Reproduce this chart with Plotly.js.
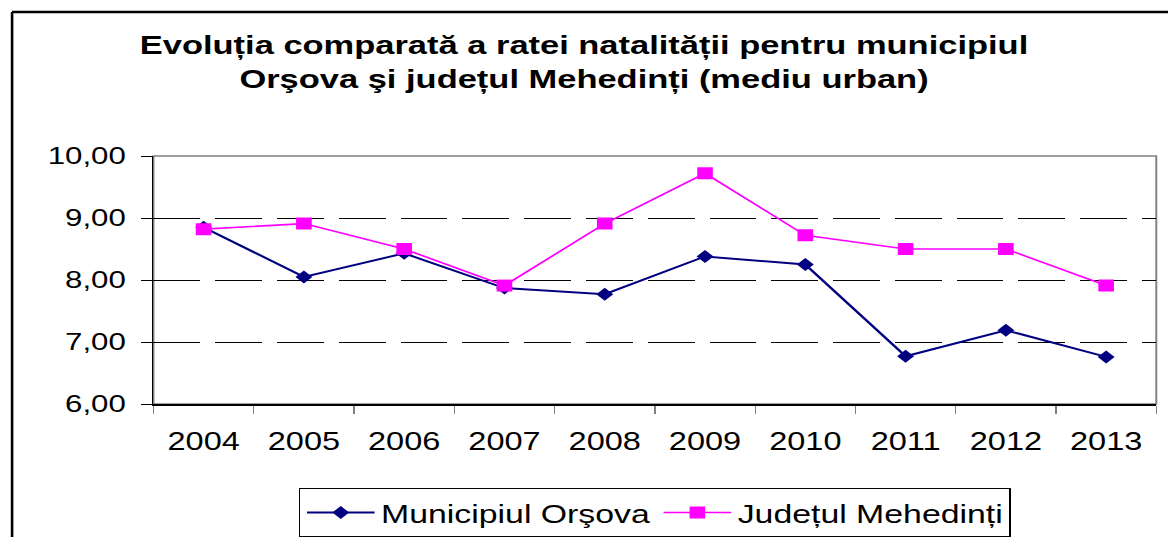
<!DOCTYPE html>
<html>
<head>
<meta charset="utf-8">
<script src="https://cdn.plot.ly/plotly-3.0.1.min.js"></script>
<style>
  html, body { margin: 0; padding: 0; background: #fff; }
  #wrap { width: 1168px; height: 537px; overflow: hidden; position: relative; }
  #chart { width: 898px; height: 537px; transform: scaleX(1.30067); transform-origin: 0 0; }
</style>
</head>
<body>
<div id="wrap"><div id="chart"></div></div>
<script>
const years = ['2004','2005','2006','2007','2008','2009','2010','2011','2012','2013'];
const orsova = [8.85, 8.05, 8.43, 7.87, 7.77, 8.38, 8.25, 6.77, 7.19, 6.76];
const mehedinti = [8.82, 8.91, 8.50, 7.91, 8.91, 9.72, 8.72, 8.50, 8.50, 7.91];
const seriesNames = ['Municipiul Orşova', 'Județul Mehedinți'];
const titleText = '<b>Evoluția comparată a ratei natalității pentru municipiul<br>Orşova şi județul Mehedinți (mediu urban)</b>';

const font = 'Liberation Sans, Arial, sans-serif';

const traces = [
  {
    x: years, y: orsova, name: seriesNames[0], type: 'scatter', mode: 'lines+markers',
    line: { color: '#000080', width: 2 },
    marker: { symbol: 'diamond', size: 10, color: '#000080' }
  },
  {
    x: years, y: mehedinti, name: seriesNames[1], type: 'scatter', mode: 'lines+markers',
    line: { color: '#FF00FF', width: 1.6 },
    marker: { symbol: 'square', size: 12, color: '#FF00FF' }
  }
];

const layout = {
  width: 898, height: 537,
  margin: { l: 118, r: 9, t: 156, b: 133, autoexpand: false },
  paper_bgcolor: '#ffffff', plot_bgcolor: '#ffffff',
  separators: ',.',
  font: { family: font, color: '#000000' },
  showlegend: true,
  title: {
    text: titleText,
    font: { family: font, size: 26.5, color: '#000000' },
    x: 0.5, xref: 'container', xanchor: 'center',
    y: 0.9, yref: 'container', yanchor: 'top'
  },
  xaxis: {
    type: 'category',
    range: [-0.5, 9.5],
    tickson: 'boundaries',
    ticks: 'outside', ticklen: 8, tickcolor: '#808080', tickwidth: 1,
    showline: true, linecolor: '#000000', linewidth: 1.5,
    showgrid: false, zeroline: false, automargin: false,
    tickfont: { family: font, size: 25, color: '#000000' },
    ticklabelstandoff: 15
  },
  yaxis: {
    range: [6, 10], dtick: 1, tick0: 6, tickformat: '.2f',
    ticks: 'outside', ticklen: 8, tickcolor: '#000000', tickwidth: 1,
    showline: true, linecolor: '#000000', linewidth: 1.5,
    showgrid: true, gridcolor: '#000000', gridwidth: 1, griddash: '36px,11.5px',
    zeroline: false, automargin: false,
    tickfont: { family: font, size: 24, color: '#000000' },
    ticklabelstandoff: 7
  },
  legend: {
    orientation: 'h',
    x: 0.5, xanchor: 'center', xref: 'paper',
    y: 0.091, yanchor: 'top', yref: 'container',
    bordercolor: '#000000', borderwidth: 1,
    bgcolor: '#ffffff',
    font: { family: font, size: 26, color: '#000000' },
    itemwidth: 52
  },
  shapes: [
    { type: 'rect', xref: 'paper', yref: 'paper', x0: 0, x1: 1, y0: 0, y1: 1,
      line: { color: '#808080', width: 1.5 }, layer: 'between' },
    { type: 'line', xref: 'paper', yref: 'paper', x0: -0.141, x1: 1.05, y0: 1.581, y1: 1.581,
      line: { color: '#000000', width: 2.5 } },
    { type: 'line', xref: 'paper', yref: 'paper', x0: -0.141, x1: -0.141, y0: 1.581, y1: -0.7,
      line: { color: '#000000', width: 2 } }
  ]
};

Plotly.newPlot('chart', traces, layout, { displayModeBar: false, staticPlot: true }).then(function (gd) {
  // lengthen the legend sample lines to fill the wider symbol area
  gd.querySelectorAll('.legend .traces').forEach(function (tr) {
    tr.querySelectorAll('path.js-line').forEach(function (p) { p.setAttribute('d', 'M5,0h52'); });
    tr.querySelectorAll('.legendpoints path.scatterpts').forEach(function (p) {
      p.setAttribute('transform', 'translate(31,0)');
    });
  });
});
</script>
</body>
</html>
